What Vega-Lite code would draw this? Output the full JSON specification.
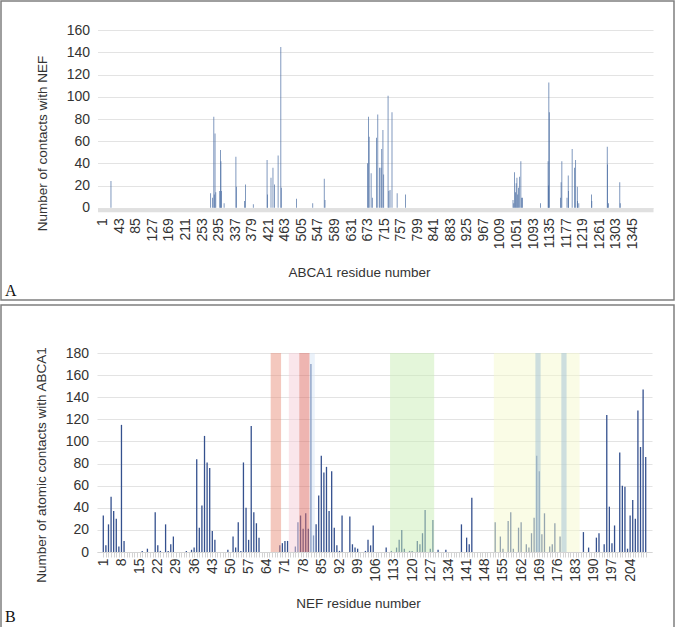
{
  "$schema": "https://vega.github.io/schema/vega-lite/v6.json",
  "padding": 0,
  "spacing": 3,
  "background": "white",
  "config": {
    "font": "Liberation Sans",
    "view": {"stroke": "#7f7f7f", "strokeWidth": 1.5},
    "axis": {
      "labelFont": "Liberation Sans", "labelFontSize": 14, "labelColor": "#333333",
      "titleFont": "Liberation Sans", "titleFontSize": 13.5, "titleFontWeight": "normal", "titleColor": "#333333",
      "gridColor": "#e3e3e3"
    }
  },
  "datasets": {
    "abca1": [
      {"residue": 22, "contacts": 24}, {"residue": 275, "contacts": 13}, {"residue": 280, "contacts": 9},
      {"residue": 283, "contacts": 82}, {"residue": 284, "contacts": 12}, {"residue": 286, "contacts": 67},
      {"residue": 288, "contacts": 14}, {"residue": 298, "contacts": 15}, {"residue": 300, "contacts": 52},
      {"residue": 301, "contacts": 42}, {"residue": 302, "contacts": 15}, {"residue": 309, "contacts": 4},
      {"residue": 339, "contacts": 46}, {"residue": 340, "contacts": 19}, {"residue": 361, "contacts": 6},
      {"residue": 363, "contacts": 21}, {"residue": 383, "contacts": 3}, {"residue": 418, "contacts": 43},
      {"residue": 419, "contacts": 12}, {"residue": 428, "contacts": 27}, {"residue": 433, "contacts": 36},
      {"residue": 437, "contacts": 21}, {"residue": 446, "contacts": 47}, {"residue": 453, "contacts": 145},
      {"residue": 454, "contacts": 18}, {"residue": 493, "contacts": 8}, {"residue": 534, "contacts": 4},
      {"residue": 563, "contacts": 26}, {"residue": 565, "contacts": 7}, {"residue": 673, "contacts": 40},
      {"residue": 675, "contacts": 82}, {"residue": 677, "contacts": 64}, {"residue": 682, "contacts": 31},
      {"residue": 685, "contacts": 9}, {"residue": 696, "contacts": 63}, {"residue": 699, "contacts": 84},
      {"residue": 703, "contacts": 36}, {"residue": 707, "contacts": 36}, {"residue": 709, "contacts": 53},
      {"residue": 712, "contacts": 70}, {"residue": 714, "contacts": 30}, {"residue": 725, "contacts": 101},
      {"residue": 727, "contacts": 15}, {"residue": 730, "contacts": 16}, {"residue": 735, "contacts": 86},
      {"residue": 748, "contacts": 13}, {"residue": 769, "contacts": 12}, {"residue": 1042, "contacts": 7},
      {"residue": 1044, "contacts": 4}, {"residue": 1046, "contacts": 32}, {"residue": 1048, "contacts": 14},
      {"residue": 1050, "contacts": 22}, {"residue": 1052, "contacts": 27}, {"residue": 1054, "contacts": 12},
      {"residue": 1056, "contacts": 18}, {"residue": 1059, "contacts": 28}, {"residue": 1062, "contacts": 42},
      {"residue": 1064, "contacts": 9}, {"residue": 1066, "contacts": 9}, {"residue": 1112, "contacts": 4},
      {"residue": 1131, "contacts": 42}, {"residue": 1132, "contacts": 20}, {"residue": 1133, "contacts": 113},
      {"residue": 1134, "contacts": 86}, {"residue": 1163, "contacts": 9}, {"residue": 1164, "contacts": 23},
      {"residue": 1166, "contacts": 42}, {"residue": 1179, "contacts": 9}, {"residue": 1182, "contacts": 29},
      {"residue": 1183, "contacts": 15}, {"residue": 1192, "contacts": 53}, {"residue": 1198, "contacts": 36},
      {"residue": 1201, "contacts": 43}, {"residue": 1205, "contacts": 19}, {"residue": 1206, "contacts": 6},
      {"residue": 1209, "contacts": 4}, {"residue": 1241, "contacts": 12}, {"residue": 1242, "contacts": 6},
      {"residue": 1281, "contacts": 55}, {"residue": 1282, "contacts": 39}, {"residue": 1284, "contacts": 4},
      {"residue": 1313, "contacts": 23}, {"residue": 1314, "contacts": 4}
    ],
    "nef": [
      {"residue": 1, "contacts": 33}, {"residue": 2, "contacts": 6}, {"residue": 3, "contacts": 25},
      {"residue": 4, "contacts": 50}, {"residue": 5, "contacts": 37}, {"residue": 6, "contacts": 30},
      {"residue": 7, "contacts": 5}, {"residue": 8, "contacts": 115}, {"residue": 9, "contacts": 10},
      {"residue": 16, "contacts": 1}, {"residue": 18, "contacts": 3}, {"residue": 21, "contacts": 36},
      {"residue": 22, "contacts": 6}, {"residue": 23, "contacts": 1}, {"residue": 25, "contacts": 25},
      {"residue": 26, "contacts": 1}, {"residue": 27, "contacts": 7}, {"residue": 28, "contacts": 14},
      {"residue": 33, "contacts": 1}, {"residue": 35, "contacts": 2}, {"residue": 36, "contacts": 4},
      {"residue": 37, "contacts": 84}, {"residue": 38, "contacts": 22}, {"residue": 39, "contacts": 42},
      {"residue": 40, "contacts": 105}, {"residue": 41, "contacts": 81}, {"residue": 42, "contacts": 76},
      {"residue": 43, "contacts": 19}, {"residue": 44, "contacts": 11}, {"residue": 49, "contacts": 2},
      {"residue": 51, "contacts": 14}, {"residue": 52, "contacts": 4}, {"residue": 53, "contacts": 27},
      {"residue": 54, "contacts": 1}, {"residue": 55, "contacts": 81}, {"residue": 56, "contacts": 40},
      {"residue": 57, "contacts": 11}, {"residue": 58, "contacts": 114}, {"residue": 59, "contacts": 36},
      {"residue": 60, "contacts": 26}, {"residue": 61, "contacts": 13}, {"residue": 69, "contacts": 6},
      {"residue": 70, "contacts": 8}, {"residue": 71, "contacts": 10}, {"residue": 72, "contacts": 10},
      {"residue": 75, "contacts": 5}, {"residue": 76, "contacts": 27}, {"residue": 77, "contacts": 33},
      {"residue": 78, "contacts": 21}, {"residue": 79, "contacts": 35}, {"residue": 80, "contacts": 21},
      {"residue": 81, "contacts": 170}, {"residue": 82, "contacts": 15}, {"residue": 83, "contacts": 25},
      {"residue": 84, "contacts": 51}, {"residue": 85, "contacts": 87}, {"residue": 86, "contacts": 72},
      {"residue": 87, "contacts": 77}, {"residue": 88, "contacts": 37}, {"residue": 89, "contacts": 73},
      {"residue": 90, "contacts": 22}, {"residue": 91, "contacts": 6}, {"residue": 92, "contacts": 1},
      {"residue": 93, "contacts": 33}, {"residue": 96, "contacts": 32}, {"residue": 97, "contacts": 7},
      {"residue": 98, "contacts": 4}, {"residue": 99, "contacts": 3}, {"residue": 102, "contacts": 1},
      {"residue": 103, "contacts": 11}, {"residue": 104, "contacts": 6}, {"residue": 105, "contacts": 24},
      {"residue": 110, "contacts": 4}, {"residue": 112, "contacts": 1}, {"residue": 114, "contacts": 4},
      {"residue": 115, "contacts": 11}, {"residue": 116, "contacts": 20}, {"residue": 117, "contacts": 3},
      {"residue": 119, "contacts": 1}, {"residue": 120, "contacts": 1}, {"residue": 122, "contacts": 10},
      {"residue": 123, "contacts": 7}, {"residue": 124, "contacts": 17}, {"residue": 125, "contacts": 38},
      {"residue": 127, "contacts": 3}, {"residue": 128, "contacts": 29}, {"residue": 130, "contacts": 2},
      {"residue": 133, "contacts": 2}, {"residue": 139, "contacts": 25}, {"residue": 141, "contacts": 13},
      {"residue": 142, "contacts": 7}, {"residue": 143, "contacts": 49}, {"residue": 152, "contacts": 27},
      {"residue": 154, "contacts": 14}, {"residue": 155, "contacts": 3}, {"residue": 157, "contacts": 28},
      {"residue": 158, "contacts": 36}, {"residue": 159, "contacts": 3}, {"residue": 161, "contacts": 22},
      {"residue": 162, "contacts": 27}, {"residue": 164, "contacts": 7}, {"residue": 165, "contacts": 4},
      {"residue": 166, "contacts": 17}, {"residue": 167, "contacts": 31}, {"residue": 168, "contacts": 87},
      {"residue": 169, "contacts": 73}, {"residue": 170, "contacts": 16}, {"residue": 171, "contacts": 35},
      {"residue": 173, "contacts": 5}, {"residue": 174, "contacts": 7}, {"residue": 175, "contacts": 26},
      {"residue": 177, "contacts": 14}, {"residue": 186, "contacts": 18}, {"residue": 188, "contacts": 4},
      {"residue": 191, "contacts": 13}, {"residue": 192, "contacts": 17}, {"residue": 194, "contacts": 7},
      {"residue": 195, "contacts": 124}, {"residue": 196, "contacts": 41}, {"residue": 197, "contacts": 8},
      {"residue": 198, "contacts": 24}, {"residue": 200, "contacts": 90}, {"residue": 201, "contacts": 60},
      {"residue": 202, "contacts": 59}, {"residue": 203, "contacts": 3}, {"residue": 204, "contacts": 33},
      {"residue": 205, "contacts": 47}, {"residue": 206, "contacts": 30}, {"residue": 207, "contacts": 128},
      {"residue": 208, "contacts": 95}, {"residue": 209, "contacts": 147}, {"residue": 210, "contacts": 86}
    ],
    "regions": [
      {"region": "66-69", "start": 65.5, "end": 69.5},
      {"region": "73-76", "start": 72.5, "end": 76.5},
      {"region": "77-80", "start": 76.5, "end": 80.5},
      {"region": "81-82", "start": 80.5, "end": 82.5},
      {"region": "112-128", "start": 111.5, "end": 128.5},
      {"region": "152-184", "start": 151.5, "end": 184.5},
      {"region": "168-169", "start": 167.5, "end": 169.5},
      {"region": "178-179", "start": 177.5, "end": 179.5}
    ]
  },
  "vconcat": [
    {
      "width": 673,
      "height": 299,
      "title": {"text": "A", "orient": "bottom", "anchor": "start", "frame": "group", "font": "Liberation Serif", "fontSize": 16, "fontWeight": "normal", "color": "#111111", "offset": -17, "dx": 4},
      "data": {"name": "abca1"},
      "mark": {"type": "bar", "width": 0.7, "color": "#4a6da3"},
      "encoding": {
        "x": {
          "field": "residue", "type": "quantitative",
          "scale": {"domain": [0.5, 1384.5], "range": [96.5, 652], "nice": false, "zero": false},
          "axis": {
            "orient": "bottom", "offset": -90.3, "format": "d",
            "values": [1, 43, 85, 127, 169, 211, 253, 295, 337, 379, 421, 463, 505, 547, 589, 631, 673, 715, 757, 799, 841, 883, 925, 967, 1009, 1051, 1093, 1135, 1177, 1219, 1261, 1303, 1345],
            "labelAngle": -90, "ticks": false, "grid": false,
            "domainColor": "#e0e0e0", "domainWidth": 4,
            "labelPadding": 8, "labelFlush": false, "labelOverlap": false, "labelBound": false,
            "title": "ABCA1 residue number", "titleX": 358, "titleY": 63, "titleBaseline": "middle", "titleAlign": "center"
          }
        },
        "y": {
          "field": "contacts", "type": "quantitative",
          "scale": {"domain": [0, 160], "range": [206.7, 29.3], "nice": false},
          "axis": {
            "offset": -96.5, "values": [0, 20, 40, 60, 80, 100, 120, 140, 160],
            "domain": false, "ticks": false, "grid": true, "labelPadding": 8,
            "title": "Number of contacts with NEF", "titleX": -54.8, "titleY": 142, "titleAngle": -90, "titleBaseline": "middle", "titleAlign": "center"
          }
        }
      }
    },
    {
      "width": 673,
      "height": 323,
      "title": {"text": "B", "orient": "bottom", "anchor": "start", "frame": "group", "font": "Liberation Serif", "fontSize": 16, "fontWeight": "normal", "color": "#111111", "offset": -19, "dx": 4},
      "layer": [
        {
          "data": {"name": "nef"},
          "mark": {"type": "bar", "width": 1.3, "color": "#34508e"},
          "encoding": {
            "x": {
              "field": "residue", "type": "quantitative",
              "scale": {"domain": [0.5, 210.5], "range": [96, 651], "nice": false, "zero": false},
              "axis": {
                "orient": "bottom", "offset": -76, "format": "d",
                "values": [1,2,3,4,5,6,7,8,9,10,11,12,13,14,15,16,17,18,19,20,21,22,23,24,25,26,27,28,29,30,31,32,33,34,35,36,37,38,39,40,41,42,43,44,45,46,47,48,49,50,51,52,53,54,55,56,57,58,59,60,61,62,63,64,65,66,67,68,69,70,71,72,73,74,75,76,77,78,79,80,81,82,83,84,85,86,87,88,89,90,91,92,93,94,95,96,97,98,99,100,101,102,103,104,105,106,107,108,109,110,111,112,113,114,115,116,117,118,119,120,121,122,123,124,125,126,127,128,129,130,131,132,133,134,135,136,137,138,139,140,141,142,143,144,145,146,147,148,149,150,151,152,153,154,155,156,157,158,159,160,161,162,163,164,165,166,167,168,169,170,171,172,173,174,175,176,177,178,179,180,181,182,183,184,185,186,187,188,189,190,191,192,193,194,195,196,197,198,199,200,201,202,203,204,205,206,207,208,209,210],
                "labelExpr": "(datum.value - 1) % 7 === 0 ? datum.label : ''",
                "labelAngle": -90, "ticks": true, "tickSize": 5, "tickColor": "#d4d4d4", "grid": false,
                "domainColor": "#d4d4d4", "domainWidth": 1,
                "labelPadding": 1, "labelFlush": false, "labelOverlap": false, "labelBound": false,
                "title": "NEF residue number", "titleX": 357, "titleY": 51, "titleBaseline": "middle", "titleAlign": "center"
              }
            },
            "y": {
              "field": "contacts", "type": "quantitative",
              "scale": {"domain": [0, 180], "range": [247, 48], "nice": false},
              "axis": {
                "offset": -96, "values": [0, 20, 40, 60, 80, 100, 120, 140, 160, 180],
                "domain": false, "ticks": false, "grid": true, "labelPadding": 8.5,
                "title": "Number of atomic contacts with ABCA1", "titleX": -56, "titleY": 159.5, "titleAngle": -90, "titleBaseline": "middle", "titleAlign": "center"
              }
            }
          }
        },
        {
          "data": {"name": "regions"},
          "mark": {"type": "rect", "opacity": 0.5},
          "encoding": {
            "x": {
              "field": "start", "type": "quantitative",
              "scale": {"domain": [0.5, 210.5], "range": [96, 651], "nice": false, "zero": false},
              "axis": {
                "orient": "bottom", "offset": -76, "format": "d",
                "values": [1,2,3,4,5,6,7,8,9,10,11,12,13,14,15,16,17,18,19,20,21,22,23,24,25,26,27,28,29,30,31,32,33,34,35,36,37,38,39,40,41,42,43,44,45,46,47,48,49,50,51,52,53,54,55,56,57,58,59,60,61,62,63,64,65,66,67,68,69,70,71,72,73,74,75,76,77,78,79,80,81,82,83,84,85,86,87,88,89,90,91,92,93,94,95,96,97,98,99,100,101,102,103,104,105,106,107,108,109,110,111,112,113,114,115,116,117,118,119,120,121,122,123,124,125,126,127,128,129,130,131,132,133,134,135,136,137,138,139,140,141,142,143,144,145,146,147,148,149,150,151,152,153,154,155,156,157,158,159,160,161,162,163,164,165,166,167,168,169,170,171,172,173,174,175,176,177,178,179,180,181,182,183,184,185,186,187,188,189,190,191,192,193,194,195,196,197,198,199,200,201,202,203,204,205,206,207,208,209,210],
                "labelExpr": "(datum.value - 1) % 7 === 0 ? datum.label : ''",
                "labelAngle": -90, "ticks": true, "tickSize": 5, "tickColor": "#d4d4d4", "grid": false,
                "domainColor": "#d4d4d4", "domainWidth": 1,
                "labelPadding": 1, "labelFlush": false, "labelOverlap": false, "labelBound": false,
                "title": "NEF residue number", "titleX": 357, "titleY": 51, "titleBaseline": "middle", "titleAlign": "center"
              }
            },
            "x2": {"field": "end"},
            "y": {
              "datum": 0, "type": "quantitative",
              "scale": {"domain": [0, 180], "range": [247, 48], "nice": false},
              "axis": {
                "offset": -96, "values": [0, 20, 40, 60, 80, 100, 120, 140, 160, 180],
                "domain": false, "ticks": false, "grid": true, "labelPadding": 8.5,
                "title": "Number of atomic contacts with ABCA1", "titleX": -56, "titleY": 159.5, "titleAngle": -90, "titleBaseline": "middle", "titleAlign": "center"
              }
            },
            "y2": {"datum": 180},
            "color": {
              "field": "region", "type": "nominal", "legend": null,
              "scale": {
                "domain": ["66-69", "73-76", "77-80", "81-82", "112-128", "152-184", "168-169", "178-179"],
                "range": ["#e9917d", "#f5cdd7", "#dd6b63", "#d7e5f5", "#c9edb5", "#f5f9cd", "#a0c0d6", "#a0c0d6"]
              }
            }
          }
        }
      ]
    }
  ]
}
